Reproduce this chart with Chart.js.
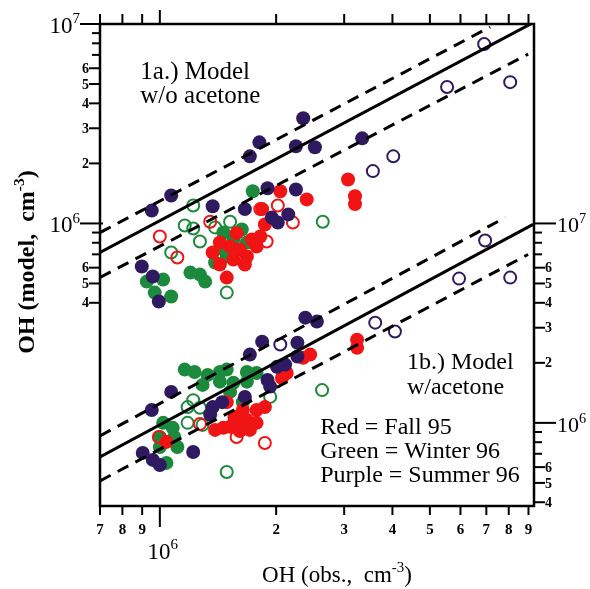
<!DOCTYPE html>
<html><head><meta charset="utf-8">
<script src="https://cdn.jsdelivr.net/npm/chart.js@4/dist/chart.umd.min.js"></script>
<style>html,body{margin:0;padding:0;background:#fff}</style>
</head><body>
<canvas id="c" width="590" height="589"></canvas>
<script>
// ---------- DATA (OH obs, OH model) ----------
// Panel 1a: model without acetone (left axis)
const fallA_filled = [[2.05e6,1.45e6],[2.40e6,1.32e6],[1.84e6,1.18e6],[1.43e6,8.03e5],[1.52e6,7.66e5],[1.61e6,7.40e5],[1.73e6,8.31e5],[1.78e6,7.66e5],[1.55e6,6.59e5],[1.68e6,6.83e5],[1.49e6,5.35e5],[1.43e6,6.22e5],[1.37e6,7.15e5],[3.07e6,1.66e6],[3.20e6,1.37e6],[3.20e6,1.25e6],[1.82e6,8.60e5],[1.58e6,8.94e5],[1.87e6,9.88e5],[1.66e6,6.22e5]];
const fallA_open = [[1.00e6,8.60e5],[1.11e6,6.75e5],[1.35e6,1.02e6],[1.82e6,1.18e6],[2.02e6,1.23e6],[1.89e6,8.12e5],[2.21e6,1.01e6]];
const winterA_filled = [[1.74e6,1.45e6],[1.46e6,9.01e5],[1.63e6,9.33e5],[1.68e6,8.03e5],[1.46e6,7.40e5],[1.49e6,6.83e5],[1.39e6,6.37e5],[1.20e6,5.67e5],[1.27e6,5.54e5],[1.31e6,5.11e5],[9.25e5,5.11e5],[1.02e6,5.23e5],[9.70e5,4.50e5],[1.07e6,4.30e5],[1.55e6,8.31e5],[1.45e6,7.66e5]];
const winterA_open = [[1.22e6,1.23e6],[1.16e6,9.77e5],[1.22e6,9.44e5],[1.27e6,8.12e5],[1.07e6,7.15e5],[1.39e6,9.55e5],[1.52e6,1.02e6],[1.49e6,4.50e5],[2.64e6,1.02e6]];
const summerA_filled = [[9.53e5,1.16e6],[1.07e6,1.38e6],[1.37e6,1.22e6],[1.71e6,2.17e6],[1.81e6,2.55e6],[2.35e6,3.37e6],[2.25e6,2.44e6],[2.52e6,2.41e6],[1.90e6,1.50e6],[2.25e6,1.48e6],[1.66e6,1.18e6],[1.95e6,1.07e6],[2.15e6,1.11e6],[2.02e6,1.01e6],[8.98e5,6.08e5],[9.59e5,5.42e5],[9.94e5,4.06e5],[3.34e6,2.67e6]];
const summerA_open = [[6.91e6,7.93e6],[5.54e6,4.83e6],[8.07e6,5.11e6],[4.02e6,2.17e6],[3.56e6,1.83e6]];

// Panel 1b: model with acetone (right axis)
const fallB_filled = [[1.39e6,9.22e5],[1.46e6,9.44e5],[1.52e6,9.55e5],[1.58e6,1.01e6],[1.68e6,1.035e6],[1.78e6,1.00e6],[1.87e6,1.20e6],[1.78e6,1.16e6],[1.64e6,1.16e6],[2.35e6,2.12e6],[2.45e6,2.20e6],[2.13e6,1.78e6],[2.07e6,1.68e6],[1.56e6,1.07e6],[1.04e6,8.03e5],[3.24e6,2.61e6],[3.24e6,2.38e6],[1.49e6,1.27e6],[1.71e6,9.22e5],[1.61e6,9.11e5]];
const fallB_open = [[9.94e5,8.50e5],[1.27e6,9.88e5],[1.58e6,8.50e5],[1.87e6,7.93e5]];
const winterB_filled = [[1.16e6,1.85e6],[1.23e6,1.80e6],[1.33e6,1.74e6],[1.43e6,1.80e6],[1.49e6,1.85e6],[1.68e6,1.80e6],[1.78e6,1.78e6],[1.29e6,1.55e6],[1.43e6,1.61e6],[1.55e6,1.59e6],[1.68e6,1.61e6],[1.52e6,1.43e6],[1.02e6,1.00e6],[1.08e6,9.44e5],[1.09e6,8.50e5],[1.00e6,8.50e5],[1.00e6,7.57e5],[1.11e6,7.57e5],[1.04e6,6.30e5],[1.64e6,1.27e6]];
const winterB_open = [[1.22e6,1.30e6],[1.18e6,1.20e6],[1.27e6,1.19e6],[1.18e6,1.00e6],[1.29e6,9.77e5],[1.93e6,1.35e6],[2.63e6,1.46e6],[1.49e6,5.67e5]];
const summerB_filled = [[2.38e6,3.37e6],[2.55e6,3.22e6],[1.84e6,2.55e6],[1.71e6,2.20e6],[2.27e6,2.52e6],[2.27e6,2.15e6],[2.11e6,1.96e6],[2.01e6,1.91e6],[1.90e6,1.64e6],[1.66e6,1.35e6],[1.45e6,1.27e6],[1.37e6,1.20e6],[1.35e6,1.10e6],[1.07e6,1.43e6],[9.53e5,1.16e6],[9.03e5,7.07e5],[9.59e5,6.52e5],[1.00e6,6.15e5],[1.22e6,7.15e5],[1.93e6,1.52e6]];
const summerB_open = [[3.61e6,3.18e6],[4.06e6,2.87e6],[6.95e6,8.21e6],[5.95e6,5.29e6],[8.07e6,5.35e6],[2.05e6,2.47e6]];

// Reference lines (endpoints [x, y])
const lineA_solid = [[7.0e5,7.15e5],[9.2e6,1.01e7]];
const lineA_upper = [[7.0e5,9.0e5],[7.16e6,9.66e6]];
const lineA_lower = [[7.0e5,5.36e5],[8.98e6,7.06e6]];
const lineB_solid = [[7.0e5,6.75e5],[9.25e6,9.9e6]];
const lineB_upper = [[7.0e5,8.61e5],[7.83e6,1.07e7]];
const lineB_lower = [[7.0e5,5.12e5],[8.98e6,6.99e6]];

// Axis ticks
const xTicks = [7e5,8e5,9e5,1e6,2e6,3e6,4e6,5e6,6e6,7e6,8e6,9e6];
const xTickLabels = ['7','8','9','','2','3','4','5','6','7','8','9'];
const yTicks = [4e5,5e5,6e5,7e5,8e5,9e5,1e6,2e6,3e6,4e6,5e6,6e6,7e6,8e6,9e6,1e7];
const yTickLabels = ['4','5','6','','','','','2','3','4','5','6','','','',''];
const decadeTicks = [1e6,1e7];

// Text
const panelA_text = ['1a.) Model','w/o acetone'];
const panelB_text = ['1b.) Model','w/acetone'];
const legendText = ['Red = Fall 95','Green = Winter 96','Purple = Summer 96'];

// ---------- STYLE ----------
const RED = '#f01414', GREEN = '#1b8a3c', PURPLE = '#2f1a62';
const SERIF = "'Liberation Serif','Times New Roman',serif";

const toPts = arr => arr.map(p => ({x:p[0], y:p[1]}));
function filled(data, color, axis){
  return {data: toPts(data), yAxisID: axis, pointRadius: 7, pointHoverRadius: 7,
    backgroundColor: color, borderColor: color, borderWidth: 0, showLine:false};
}
function open(data, color, axis){
  return {data: toPts(data), yAxisID: axis, pointRadius: 6, pointHoverRadius: 6,
    backgroundColor: 'rgba(255,255,255,0)', borderColor: color, borderWidth: 2, showLine:false};
}
function refLine(data, axis, dashed){
  return {data: toPts(data), yAxisID: axis, showLine:true, pointRadius:0, borderColor:'#000',
    borderWidth: 3, borderDash: dashed ? [12,8] : [], fill:false, tension:0};
}

const datasets = [
  refLine(lineA_solid,'y',false), refLine(lineA_upper,'y',true), refLine(lineA_lower,'y',true),
  refLine(lineB_solid,'y2',false), refLine(lineB_upper,'y2',true), refLine(lineB_lower,'y2',true),
  open(summerA_open, PURPLE,'y'), filled(summerA_filled, PURPLE,'y'),
  open(summerB_open, PURPLE,'y2'), filled(summerB_filled, PURPLE,'y2'),
  open(fallA_open, RED,'y'), filled(fallA_filled, RED,'y'),
  open(fallB_open, RED,'y2'), filled(fallB_filled, RED,'y2'),
  open(winterA_open, GREEN,'y'), filled(winterA_filled, GREEN,'y'),
  open(winterB_open, GREEN,'y2'), filled(winterB_filled, GREEN,'y2')
];

function richText(ctx, parts, x, y, align, size, weight){
  let w = 0;
  const widths = parts.map(p => {
    ctx.font = weight + ' ' + (p.sup ? size*0.65 : size) + 'px ' + SERIF;
    const m = ctx.measureText(p.t).width; w += m; return m;
  });
  let cx = align === 'right' ? x - w : align === 'center' ? x - w/2 : x;
  ctx.textBaseline = 'alphabetic'; ctx.textAlign = 'left';
  parts.forEach((p,i) => {
    ctx.font = weight + ' ' + (p.sup ? size*0.65 : size) + 'px ' + SERIF;
    ctx.fillText(p.t, cx, p.sup ? y - size*0.42 : y);
    cx += widths[i];
  });
}

const axesPlugin = {
  id: 'axesPlugin',
  afterDatasetsDraw(chart){
    const ctx = chart.ctx, a = chart.chartArea;
    const sx = chart.scales.x, sy = chart.scales.y, sy2 = chart.scales.y2;
    ctx.save();
    ctx.strokeStyle = '#000'; ctx.fillStyle = '#000'; ctx.lineCap = 'butt';
    // frame
    ctx.lineWidth = 2.5;
    ctx.strokeRect(a.left, a.top, a.right - a.left, a.bottom - a.top);
    ctx.lineWidth = 2;
    // x ticks (bottom & top)
    xTicks.forEach((v,i) => {
      const px = sx.getPixelForValue(v);
      const dec = decadeTicks.includes(v);
      ctx.beginPath();
      ctx.moveTo(px, a.bottom); ctx.lineTo(px, a.bottom + (dec ? 21 : 9));
      ctx.moveTo(px, a.top); ctx.lineTo(px, a.top - (dec ? 14 : 10));
      ctx.stroke();
      if (xTickLabels[i]) {
        ctx.font = 'bold 15px ' + SERIF; ctx.textAlign = 'center'; ctx.textBaseline = 'alphabetic';
        ctx.fillText(xTickLabels[i], px, a.bottom + 28);
      }
    });
    richText(ctx, [{t:'10'},{t:'6',sup:true}], sx.getPixelForValue(1e6) + 3, a.bottom + 53, 'center', 23, 'normal');
    // left y ticks
    yTicks.forEach((v,i) => {
      const py = sy.getPixelForValue(v);
      const dec = decadeTicks.includes(v);
      const len = dec ? 20 : (yTickLabels[i] ? 11 : 8);
      ctx.beginPath(); ctx.moveTo(a.left + (dec ? 3 : 0), py); ctx.lineTo(a.left - len, py); ctx.stroke();
      if (yTickLabels[i]) {
        ctx.font = 'bold 14px ' + SERIF; ctx.textAlign = 'right'; ctx.textBaseline = 'middle';
        ctx.fillText(yTickLabels[i], a.left - 11, py + 1);
      }
    });
    decadeTicks.forEach(v => {
      const py = sy.getPixelForValue(v);
      richText(ctx, [{t:'10'},{t:String(Math.round(Math.log10(v))),sup:true}], a.left - 20, py + 9, 'right', 23, 'normal');
    });
    // right y ticks
    yTicks.forEach((v,i) => {
      const py = sy2.getPixelForValue(v);
      const dec = decadeTicks.includes(v);
      const len = dec ? 22 : (yTickLabels[i] ? 11 : 8);
      ctx.beginPath(); ctx.moveTo(a.right, py); ctx.lineTo(a.right + len, py); ctx.stroke();
      if (yTickLabels[i]) {
        ctx.font = 'bold 14px ' + SERIF; ctx.textAlign = 'left'; ctx.textBaseline = 'middle';
        ctx.fillText(yTickLabels[i], a.right + 11, py + 1);
      }
    });
    decadeTicks.forEach(v => {
      const py = sy2.getPixelForValue(v);
      richText(ctx, [{t:'10'},{t:String(Math.round(Math.log10(v))),sup:true}], a.right + 23, py + 9, 'left', 22, 'normal');
    });
    // axis titles
    richText(ctx, [{t:'OH (obs.,  cm'},{t:'-3',sup:true},{t:')'}], (a.left + a.right)/2 + 20, a.bottom + 76, 'center', 23, 'normal');
    ctx.save();
    ctx.translate(34, (a.top + a.bottom)/2 - 3);
    ctx.rotate(-Math.PI/2);
    richText(ctx, [{t:'OH (model,  cm'},{t:'-3',sup:true},{t:')'}], 0, 0, 'center', 24, 'bold');
    ctx.restore();
    // panel annotations
    ctx.textAlign = 'left'; ctx.textBaseline = 'alphabetic';
    ctx.font = '25px ' + SERIF;
    const ax = sx.getPixelForValue(8.9e5);
    ctx.fillText(panelA_text[0], ax, sy.getPixelForValue(5.3e6));
    ctx.fillText(panelA_text[1], ax, sy.getPixelForValue(4.0e6));
    ctx.font = '24px ' + SERIF;
    const bx = sx.getPixelForValue(4.36e6);
    ctx.fillText(panelB_text[0], bx, sy2.getPixelForValue(1.87e6));
    ctx.fillText(panelB_text[1], bx, sy2.getPixelForValue(1.40e6));
    const lx = sx.getPixelForValue(2.6e6);
    ctx.fillText(legendText[0], lx, sy2.getPixelForValue(8.8e5));
    ctx.fillText(legendText[1], lx, sy2.getPixelForValue(6.67e5));
    ctx.fillText(legendText[2], lx, sy2.getPixelForValue(5.05e5));
    ctx.restore();
  }
};

new Chart(document.getElementById('c'), {
  type: 'scatter',
  data: { datasets },
  options: {
    responsive: false, animation: false, devicePixelRatio: 1,
    layout: { padding: { left: 100, right: 56, top: 24, bottom: 83 } },
    plugins: { legend: { display: false }, tooltip: { enabled: false } },
    scales: {
      x: { type: 'logarithmic', min: 7e5, max: 9.3e6, display: false },
      y: { type: 'logarithmic', min: 3.83e4, max: 1e7, display: false },
      y2: { type: 'logarithmic', min: 3.83e5, max: 1e8, display: false, position: 'right' }
    }
  },
  plugins: [axesPlugin]
});
</script>
</body></html>
